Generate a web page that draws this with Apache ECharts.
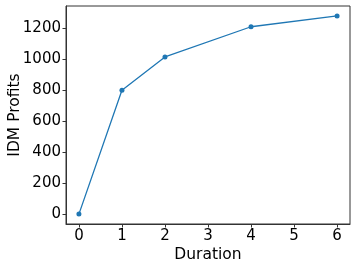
<!DOCTYPE html>
<html><head><meta charset="utf-8">
<script src="https://cdn.jsdelivr.net/npm/echarts@6/dist/echarts.min.js"></script>
<style>html,body{margin:0;padding:0;background:#fff}#c{width:357px;height:268px}</style>
</head><body><div id="c"></div>
<script>
const durations = [0, 1, 2, 4, 6];
const profits = [0, 800, 1015, 1210, 1280];
const xTicks = [0, 1, 2, 3, 4, 5, 6];
const yTicks = [0, 200, 400, 600, 800, 1000, 1200];

const chart = echarts.init(document.getElementById('c'), null, {renderer: 'canvas'});
const font = 'DejaVu Sans';
chart.setOption({
  animation: false,
  grid: {left: 66, top: 6, right: 7, bottom: 44, outerBoundsMode: 'none', containLabel: false, show: true, borderColor: '#333', borderWidth: 1, backgroundColor: 'transparent'},
  xAxis: {
    type: 'value', min: -0.3, max: 6.3,
    name: 'Duration', nameLocation: 'middle', nameGap: 22.5, nameMoveOverlap: false,
    nameTextStyle: {fontFamily: font, fontSize: 15.5, color: '#000'},
    axisLine: {show: true, onZero: false, lineStyle: {color: '#333', width: 1}},
    axisTick: {show: true, length: 3.5, lineStyle: {color: '#333'}, customValues: xTicks},
    axisLabel: {fontFamily: font, fontSize: 15, color: '#000', margin: 5, customValues: xTicks, formatter: v => String(v)},
    splitLine: {show: false}
  },
  yAxis: {
    type: 'value', min: -64, max: 1344,
    name: 'IDM Profits', nameLocation: 'middle', nameGap: 43.5, nameMoveOverlap: false,
    nameTextStyle: {fontFamily: font, fontSize: 15.5, color: '#000'},
    axisLine: {show: true, onZero: false, lineStyle: {color: '#333', width: 1}},
    axisTick: {show: true, length: 3.5, lineStyle: {color: '#333'}, customValues: yTicks},
    axisLabel: {fontFamily: font, fontSize: 15, color: '#000', margin: 5, customValues: yTicks, formatter: v => String(v)},
    splitLine: {show: false}
  },
  series: [{
    type: 'line',
    data: durations.map((d, i) => [d, profits[i]]),
    symbol: 'circle', symbolSize: 5,
    itemStyle: {color: '#1f77b4'},
    lineStyle: {color: '#1f77b4', width: 1.3}
  }]
});
</script></body></html>
